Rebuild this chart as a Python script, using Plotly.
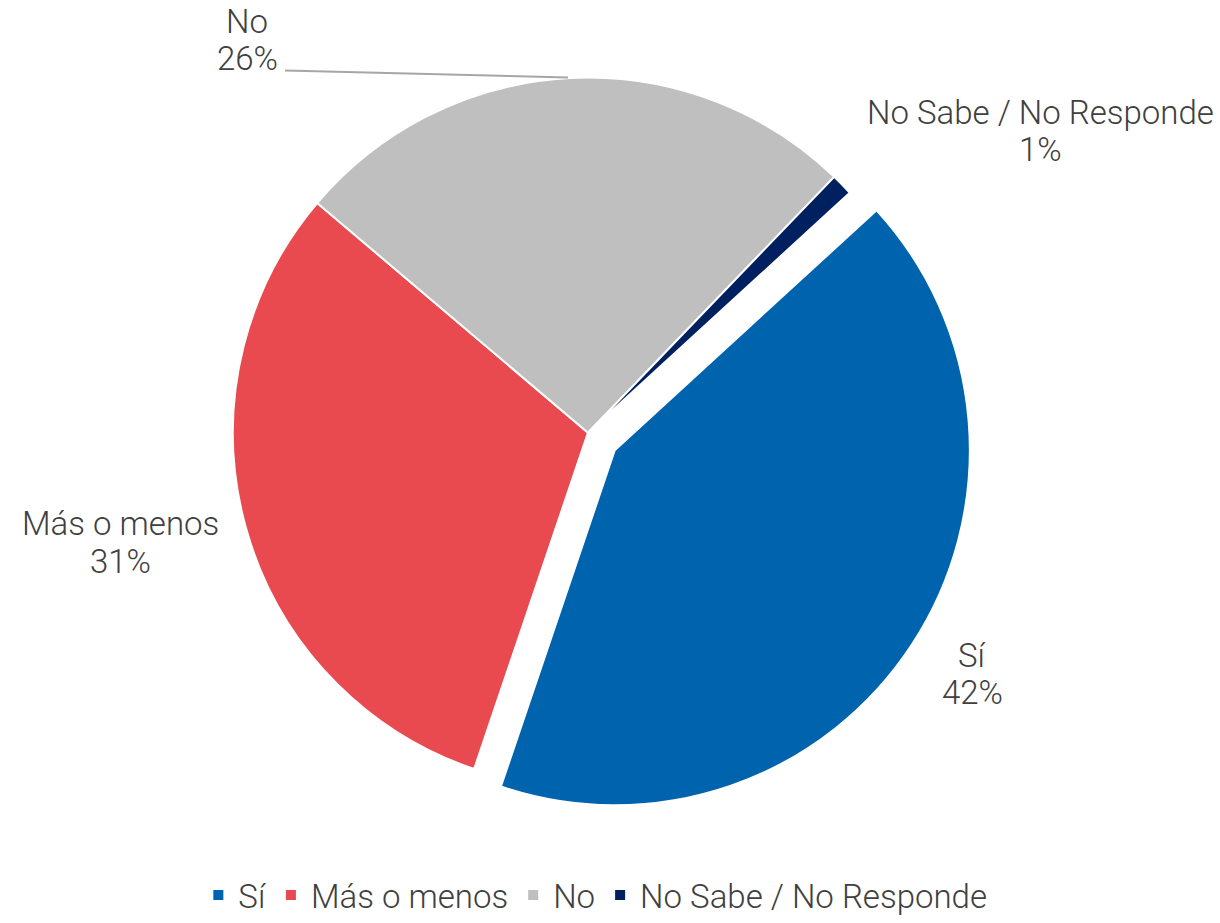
import plotly.graph_objects as go

# Survey answers and their share of responses (%)
labels = ["Sí", "Más o menos", "No", "No Sabe / No Responde"]
values = [42, 31, 26, 1]
colors = ["#0063AE", "#E84A50", "#BFBFBF", "#002060"]
pulls = [0.09, 0, 0, 0]

W, H = 1220, 923
FONT = "Roboto"
TEXT_COLOR = "#404040"

fig = go.Figure(
    go.Pie(
        labels=labels,
        values=values,
        sort=False,
        direction="clockwise",
        rotation=47.5,
        pull=pulls,
        marker=dict(colors=colors, line=dict(color="white", width=2)),
        textinfo="none",
        hoverinfo="label+percent",
        domain=dict(x=[0, 588 * 2 / W], y=[1 - 826 / H, 1 - 46 / H]),
    )
)

# Outside labels: category name above its percentage
label_pos = {
    "Sí": (972, 661, 698),
    "Más o menos": (120, 528, 566),
    "No": (247, 22, 59),
    "No Sabe / No Responde": (1040, 113, 151),
}
annotations = []
for lab, val in zip(labels, values):
    x, y1, y2 = label_pos[lab]
    for txt, yy in ((lab, y1), (f"{val}%", y2)):
        annotations.append(
            dict(
                text=txt,
                x=x / W,
                y=1 - yy / H,
                xref="paper",
                yref="paper",
                showarrow=False,
                xanchor="center",
                yanchor="middle",
                font=dict(family=FONT, size=33, color=TEXT_COLOR, weight=300),
            )
        )

fig.update_layout(
    width=W,
    height=H,
    margin=dict(l=0, r=0, t=0, b=0),
    paper_bgcolor="white",
    plot_bgcolor="white",
    font=dict(family=FONT, size=33, color=TEXT_COLOR, weight=300),
    annotations=annotations,
    shapes=[
        dict(
            type="line",
            xref="paper",
            yref="paper",
            x0=285 / W,
            y0=1 - 71 / H,
            x1=568 / W,
            y1=1 - 78 / H,
            line=dict(color="#A6A6A6", width=2),
        )
    ],
    showlegend=True,
    legend=dict(
        orientation="h",
        x=0.488,
        xanchor="center",
        y=-0.008,
        yanchor="bottom",
        font=dict(family=FONT, size=33, color=TEXT_COLOR, weight=300),
        itemsizing="constant",
        traceorder="normal",
    ),
)

fig.write_html("out.html")
